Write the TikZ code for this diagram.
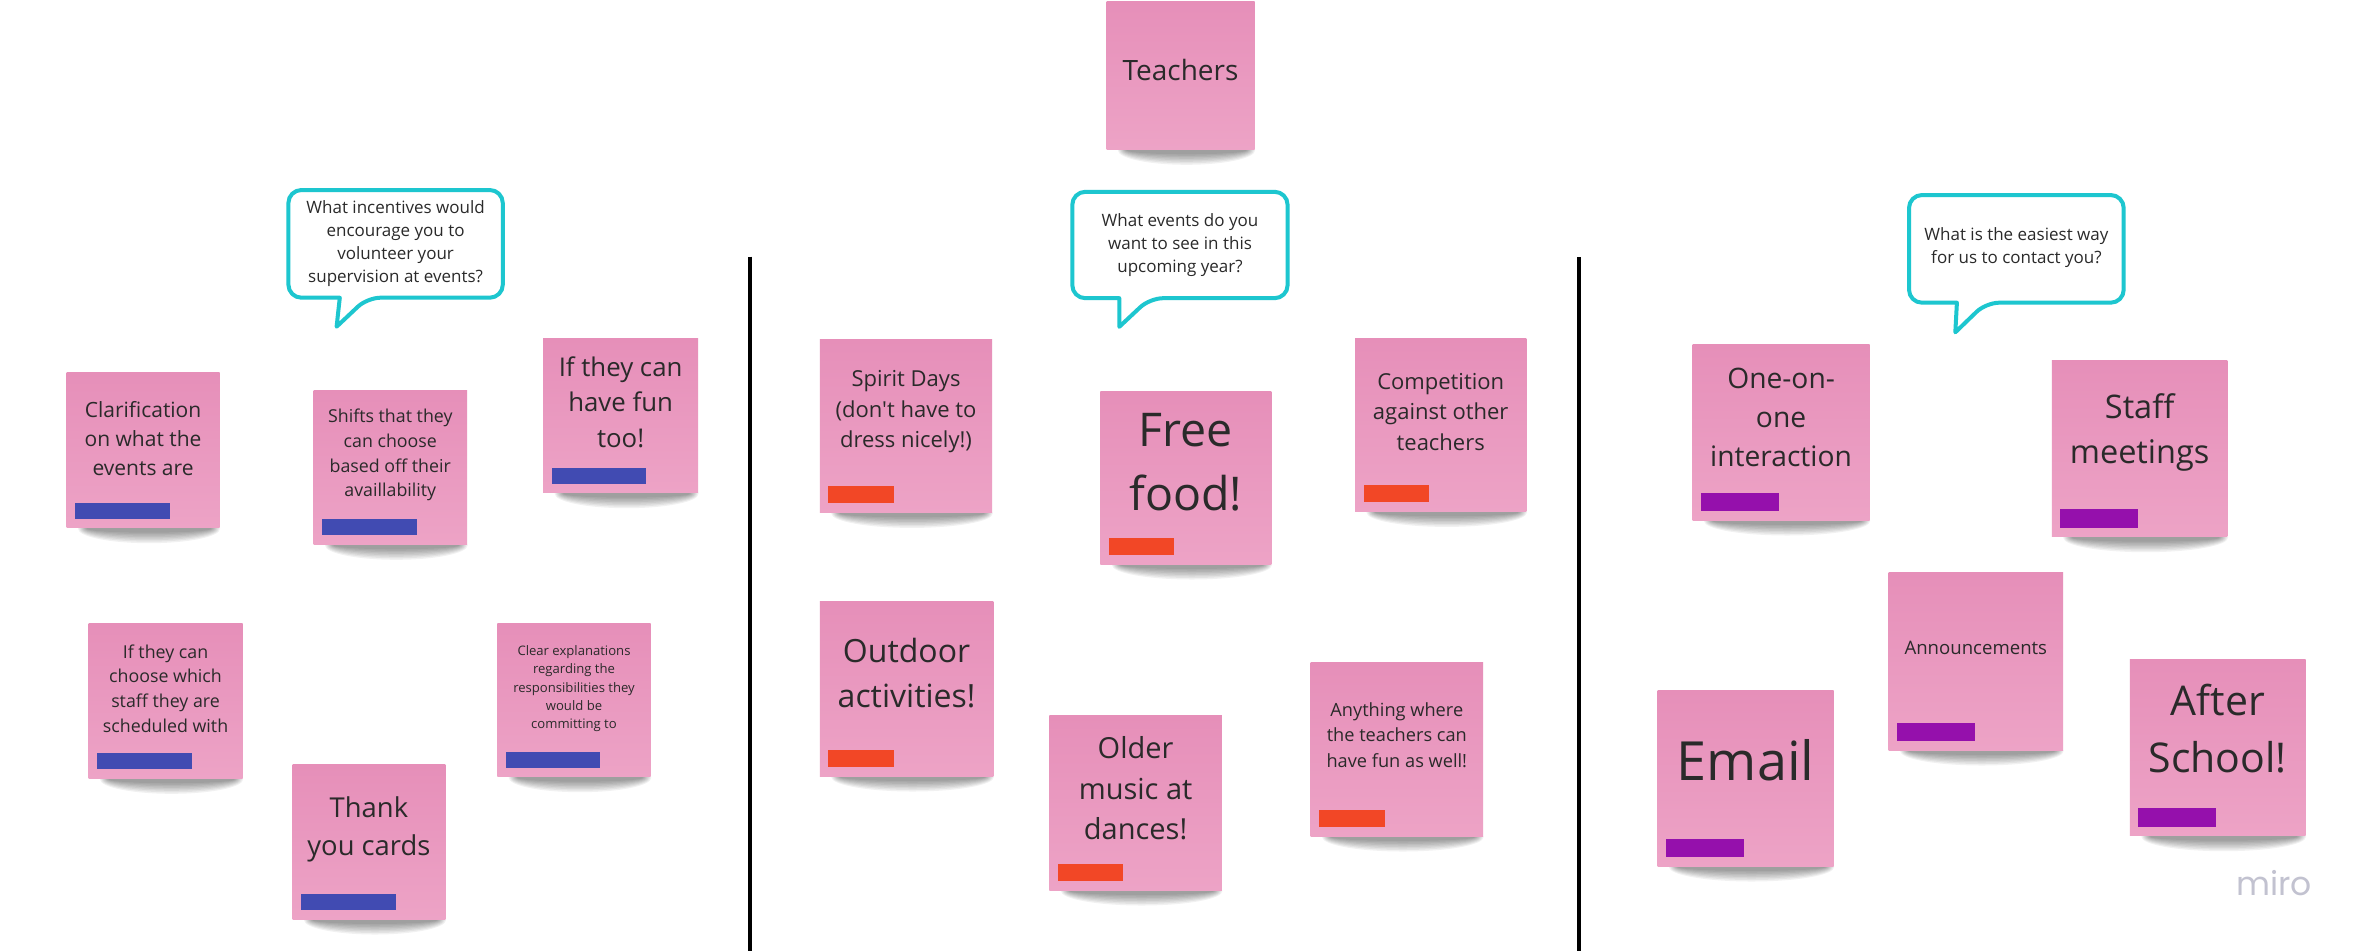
\documentclass[tikz,border=0pt]{standalone}
\usepackage{fontspec}
\setmainfont{Open Sans}[Ligatures=TeXOff]
\newfontfamily\logofont{Poppins}

\definecolor{noteTop}{HTML}{E68FB9}
\definecolor{noteBot}{HTML}{EDA3C6}
\definecolor{tagBlue}{HTML}{414BB2}
\definecolor{tagRed}{HTML}{F24726}
\definecolor{tagPurple}{HTML}{9510AC}
\definecolor{bubbleEdge}{HTML}{1DC6CF}
\definecolor{ink}{HTML}{2A2A2A}
\definecolor{logoGrey}{HTML}{C2C2D0}

\tikzset{
  note/.style={rectangle, inner sep=0pt, top color=noteTop, bottom color=noteBot, draw=none},
  notetext/.style={align=center, text=ink, inner sep=0pt},
  tagbox/.style={rectangle, inner sep=0pt, draw=none, anchor=south west},
  tagL/.style={tagbox, fill=tagBlue, minimum width=94.5pt, minimum height=16pt},
  tagM/.style={tagbox, fill=tagRed, minimum width=65.5pt, minimum height=17.5pt},
  tagR/.style={tagbox, fill=tagPurple, minimum width=77.5pt, minimum height=18.5pt},
  bubble/.style={draw=bubbleEdge, line width=4pt, fill=white, rounded corners=13pt, line join=round},
  bubbletext/.style={align=center, text=ink, inner sep=0pt, font=\fontsize{17}{23}\selectfont},
  divider/.style={line width=4pt, black},
}

% sticky note: name, left, top, right, bottom, font size, text centre y, text
\newcommand\stickynote[8]{%
  \pgfmathsetmacro\ncx{(#2+#4)/2}%
  \pgfmathsetmacro\ncy{(#3+#5)/2}%
  \pgfmathsetmacro\nw{#4-#2}%
  \pgfmathsetmacro\nh{#5-#3}%
  \pgfmathsetmacro\nbs{1.385*#6}%
  \foreach \k in {1,...,8}{%
    \fill[black, opacity=0.055] ({\ncx+6},{#5+1}) ellipse [x radius={\nw/2-15+1.2*\k}, y radius={2.5+1.5*\k}];
  }
  \node[note, minimum width=\nw pt, minimum height=\nh pt] (#1) at (\ncx,\ncy) {};
  \node[notetext, font=\fontsize{#6}{\nbs}\selectfont] (#1-text) at (\ncx,#7) {#8};
}
% coloured tag in the lower left corner of a note
\newcommand\notetag[2]{%
  \node[#2] (#1-tag) at ([xshift=8.5pt,yshift=9pt]#1.south west) {};
}

\begin{document}
\begin{tikzpicture}[x=1pt, y=-1pt]
  \fill[white] (0,0) rectangle (2365,951);
  \useasboundingbox (0,0) rectangle (2365,951);

  % column dividers
  \coordinate (d1top) at (749.6,256.7);
  \coordinate (d1bot) at (749.6,951);
  \coordinate (d2top) at (1578.5,257);
  \coordinate (d2bot) at (1578.5,951);
  \draw[divider] (d1top) -- (d1bot);
  \draw[divider] (d2top) -- (d2bot);

  % title
  \stickynote{teachers}{1106.5}{1}{1254.5}{149.3}{28}{70.4}{Teachers}

  % question bubbles
  \draw[bubble] (288.4,190) -- (502.8,190) -- (502.8,297.7) -- (367.4,297.7)
    [sharp corners] -- (336.6,326.7) -- (339.8,297.7)
    [rounded corners=13pt] -- (288.4,297.7) -- cycle;
  \node[bubbletext] (q1) at (395.6,243.8)
    {What incentives would\\encourage you to\\volunteer your\\supervision at events?};

  \draw[bubble] (1072.3,191.8) -- (1287.6,191.8) -- (1287.6,298.2) -- (1149.9,298.2)
    [sharp corners] -- (1119.3,326.8) -- (1119.3,298.2)
    [rounded corners=13pt] -- (1072.3,298.2) -- cycle;
  \node[bubbletext] (q2) at (1180,244.6)
    {What events do you\\want to see in this\\upcoming year?};

  \draw[bubble] (1909,195) -- (2123.7,195) -- (2123.7,302.7) -- (1986,302.7)
    [sharp corners] -- (1955.3,332.3) -- (1956.9,302.7)
    [rounded corners=13pt] -- (1909,302.7) -- cycle;
  \node[bubbletext] (q3) at (2016.4,248)
    {What is the easiest way\\for us to contact you?};

  % incentives
  \stickynote{clar}{66.6}{372.3}{219.5}{527.7}{21}{438.5}{Clarification\\on what the\\events are}
  \notetag{clar}{tagL}
  \stickynote{shifts}{313.6}{390}{467}{544.3}{17.8}{455.2}{Shifts that they\\can choose\\based off their\\availlability}
  \notetag{shifts}{tagL}
  \stickynote{fun}{543.2}{338.3}{698}{492.7}{25.8}{402.2}{If they can\\have fun\\too!}
  \notetag{fun}{tagL}
  \stickynote{staffwith}{88.6}{623.3}{242.5}{778.3}{17.8}{688.4}{If they can\\choose which\\staff they are\\scheduled with}
  \notetag{staffwith}{tagL}
  \stickynote{thanks}{292.5}{764.3}{445.4}{919}{27.4}{829.5}{Thank\\you cards}
  \notetag{thanks}{tagL}
  \stickynote{clear}{497.3}{623.3}{650.7}{776.7}{13.1}{688.7}{Clear explanations\\regarding the\\responsibilities they\\would be\\committing to}
  \notetag{clear}{tagL}

  % events
  \stickynote{spirit}{819.8}{339.3}{992.2}{512.4}{22}{411.8}{Spirit Days\\(don't have to\\dress nicely!)}
  \notetag{spirit}{tagM}
  \stickynote{food}{1100.4}{391}{1271.3}{564}{46.5}{462.5}{Free\\food!}
  \notetag{food}{tagM}
  \stickynote{compete}{1355}{338.5}{1526.4}{511.4}{22}{411.8}{Competition\\against other\\teachers}
  \notetag{compete}{tagM}
  \stickynote{outdoor}{819.8}{601.7}{993.3}{776}{32}{672.9}{Outdoor\\activities!}
  \notetag{outdoor}{tagM}
  \stickynote{music}{1049.4}{715.7}{1221.8}{890}{29}{788.3}{Older\\music at\\dances!}
  \notetag{music}{tagM}
  \stickynote{anything}{1310.6}{662.3}{1483}{836}{18.2}{735}{Anything where\\the teachers can\\have fun as well!}
  \notetag{anything}{tagM}

  % contact
  \stickynote{oneone}{1692.5}{344}{1869.6}{520}{28.2}{417.2}{One-on-\\one\\interaction}
  \notetag{oneone}{tagR}
  \stickynote{meetings}{2051.8}{360}{2227.4}{536.7}{32.5}{432.5}{Staff\\meetings}
  \notetag{meetings}{tagR}
  \stickynote{announce}{1888.6}{572.7}{2063}{750}{18.6}{648.3}{Announcements}
  \notetag{announce}{tagR}
  \stickynote{email}{1657.5}{690}{1833.6}{866}{54}{760}{Email}
  \notetag{email}{tagR}
  \stickynote{after}{2129.9}{659}{2305.5}{835.7}{41}{728.4}{After\\School!}
  \notetag{after}{tagR}

  % board logo
  \node[font=\logofont\fontsize{33}{33}\selectfont, text=logoGrey, anchor=base west, inner sep=0pt] (logo) at (2236,895) {miro};
\end{tikzpicture}
\end{document}
